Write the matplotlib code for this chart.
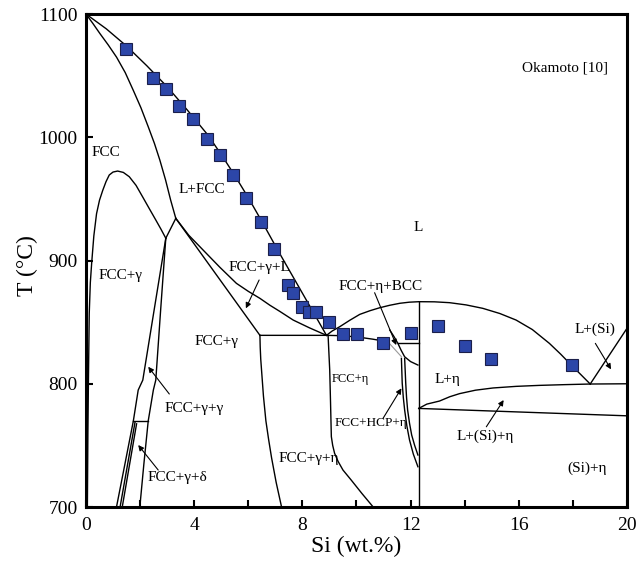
import matplotlib
matplotlib.use("Agg")
import matplotlib.pyplot as plt

plt.rcParams['font.family'] = ['Liberation Serif', 'DejaVu Serif']

# Measured liquidus temperatures
si_meas = [1.49, 2.46, 2.95, 3.45, 3.96, 4.46, 4.96, 5.43, 5.93, 6.46, 6.95, 7.46,
           7.64, 7.99, 8.25, 8.49, 8.97, 9.49, 10.02, 10.98, 12.0, 13.0, 14.01,
           14.98, 17.95]
t_meas = [1072, 1048, 1039, 1025, 1015, 999, 986, 969, 951, 931, 909, 880,
          874, 862, 858, 858, 850, 840, 840, 833, 841, 847, 831, 820, 815]

# Calculated phase boundaries (wt.% Si, degC)
liquidus_fcc_x = [0.0, 0.75, 1.5, 2.25, 3.0, 3.75, 4.5, 5.0, 5.5, 6.0, 6.52, 7.1, 7.7, 8.3, 8.89]
liquidus_fcc_t = [1100, 1088, 1074, 1058, 1041, 1022, 1002, 986, 969, 951, 931, 908, 885, 862, 839.3]

solidus_fcc_x = [0.0, 0.25, 0.52, 0.82, 1.13, 1.45, 1.75, 2.03, 2.30, 2.53, 2.73, 2.94, 3.13, 3.32]
solidus_fcc_t = [1100, 1092.5, 1084, 1075, 1065, 1052.5, 1038, 1024, 1008.6, 995, 981.5, 965.5, 949, 934.2]

fcc_solvus_x = [0.05, 0.07, 0.09, 0.12, 0.16, 0.21, 0.29, 0.39, 0.50, 0.62, 0.74, 0.86,
                1.0, 1.17, 1.38, 1.60, 1.85, 2.09, 2.33, 2.58, 2.77, 2.95]
fcc_solvus_t = [700, 760, 803, 857, 882, 898, 920, 938, 949, 957, 964, 969.4,
                971.8, 972.6, 971.5, 968, 961, 951.8, 942.5, 932.9, 925.5, 918.1]

gamma_link_x = [2.95, 3.32]
gamma_link_t = [918.1, 934.2]

gamma_left_x = [2.95, 2.52, 2.10, 1.93, 1.75, 1.44, 1.13]
gamma_left_t = [918.1, 860, 803, 794.9, 769.8, 735, 700.3]

gamma_right_x = [2.95, 2.76, 2.58, 2.49, 2.30, 2.14, 1.99]
gamma_right_t = [918.1, 860, 803, 794.9, 769.8, 735, 700.0]

delta_line_x = [1.75, 2.30]
delta_line_t = [769.8, 769.8]

delta_a_x = [1.81, 1.26]
delta_a_t = [768.5, 700.0]
delta_b_x = [1.87, 1.34]
delta_b_t = [767.5, 700.0]

gl_upper_x = [3.32, 3.80, 4.33, 4.95, 5.56, 6.0, 6.43, 6.8, 7.16, 7.66, 8.25, 8.89]
gl_upper_t = [934.2, 920.5, 908.5, 894.5, 881.5, 875, 869.3, 863.7, 858.8, 851.7, 845.5, 839.3]

gl_lower_x = [3.32, 6.43]
gl_lower_t = [934.2, 839.3]

peritectic_x = [6.43, 8.89, 9.5, 10.12, 10.6, 11.16]
peritectic_t = [839.3, 839.3, 839.0, 837.7, 836.2, 834.1]

bcc_x = [11.16, 11.66]
bcc_t = [834.1, 822.0]

fcc_gamma_eta_x = [6.43, 6.44, 6.46, 6.49, 6.56, 6.65, 6.75, 6.86, 7.03, 7.23]
fcc_gamma_eta_t = [839.3, 830, 820, 811, 790, 770, 755, 740, 720, 700]

fcc_eta_x = [8.89, 8.95, 8.98, 9.01, 9.04, 9.07, 9.12, 9.19, 9.32, 9.50, 9.80, 10.20, 10.61]
fcc_eta_t = [839.3, 839.3, 825, 811.2, 785, 757.1, 750, 743.6, 737, 730.0, 722, 711, 700.2]

eta_liquidus_x = [8.89, 9.10, 9.38, 9.75, 10.12, 10.50, 10.86, 11.23, 11.60, 11.95, 12.31,
                  12.88, 13.44, 14.05, 14.67, 15.30, 15.90, 16.50, 17.13, 17.55, 17.94, 18.30, 18.64]
eta_liquidus_t = [839.3, 842.8, 846.3, 851.5, 856.3, 859.3, 861.7, 863.7, 865.3, 866.2, 866.6,
                  866.5, 865.8, 864.0, 861.2, 857.0, 851.7, 844.0, 832.8, 824.0, 815.2, 807.3, 799.8]

bcc_curve_x = [11.23, 11.38, 11.53, 11.65, 11.78, 12.0, 12.27]
bcc_curve_t = [843.6, 838.5, 832.8, 827.2, 821.9, 818.0, 815.2]

bcc_line_x = [11.53, 12.30]
bcc_line_t = [832.8, 832.8]

hcp_a_x = [11.66, 11.69, 11.73, 11.78, 11.86, 11.96, 12.10, 12.27]
hcp_a_t = [820.6, 800.6, 789, 778.7, 766, 754.4, 743, 732.7]
hcp_b_x = [11.78, 11.82, 11.85, 11.89, 11.96, 12.04, 12.15, 12.27]
hcp_b_t = [820.6, 800.6, 789, 778.7, 768, 758.4, 750, 742.2]

eta_line_x = [12.30, 12.30]
eta_line_t = [866.0, 700.0]

si_eta_upper_x = [12.30, 12.6, 13.07, 13.45, 13.81, 14.4, 15.05, 15.9, 16.76, 17.7, 18.64, 20.0]
si_eta_upper_t = [780, 783.5, 786, 789.5, 792, 794.8, 796.6, 797.9, 798.7, 799.3, 799.8, 800.0]

si_eta_lower_x = [12.30, 20.0]
si_eta_lower_t = [780, 774]

si_liquidus_x = [18.64, 20.0]
si_liquidus_t = [799.8, 845.0]

boundaries = [
    (liquidus_fcc_x, liquidus_fcc_t), (solidus_fcc_x, solidus_fcc_t),
    (fcc_solvus_x, fcc_solvus_t), (gamma_link_x, gamma_link_t),
    (gamma_left_x, gamma_left_t), (gamma_right_x, gamma_right_t),
    (delta_line_x, delta_line_t), (delta_a_x, delta_a_t), (delta_b_x, delta_b_t),
    (gl_upper_x, gl_upper_t), (gl_lower_x, gl_lower_t),
    (peritectic_x, peritectic_t), (fcc_gamma_eta_x, fcc_gamma_eta_t),
    (fcc_eta_x, fcc_eta_t), (eta_liquidus_x, eta_liquidus_t),
    (bcc_curve_x, bcc_curve_t), (bcc_line_x, bcc_line_t),
    (hcp_a_x, hcp_a_t), (hcp_b_x, hcp_b_t), (eta_line_x, eta_line_t),
    (si_eta_upper_x, si_eta_upper_t), (si_eta_lower_x, si_eta_lower_t),
    (si_liquidus_x, si_liquidus_t),
]

# Region labels: text, x, T, size
region_labels = [
    ("FCC", 0.74, 987.5, 11),
    ("L+FCC", 4.30, 958, 11),
    ("FCC+\u03b3", 1.29, 888, 11),
    ("FCC+\u03b3", 4.83, 834, 11),
    ("FCC+\u03b3+L", 6.43, 894, 11),
    ("L", 12.27, 927, 11),
    ("FCC+\u03b7+BCC", 10.89, 879, 11),
    ("FCC+\u03b7", 9.78, 804, 9),
    ("FCC+HCP+\u03b7", 10.53, 768, 9.5),
    ("FCC+\u03b3+\u03b7", 8.22, 739.5, 11),
    ("L+\u03b7", 13.35, 803.6, 11),
    ("L+(Si)", 18.81, 844, 11),
    ("L+(Si)+\u03b7", 14.76, 757.6, 11),
    ("(Si)+\u03b7", 18.51, 731.4, 11),
    ("FCC+\u03b3+\u03b3", 3.99, 780, 11),
    ("FCC+\u03b3+\u03b4", 3.38, 724, 11),
    ("Okamoto [10]", 17.69, 1056, 11),
]

# Pointer arrows: (tail x, tail T, head x, head T)
pointers = [
    (6.40, 884.2, 5.91, 861.2),
    (10.67, 873.9, 11.47, 831.4),
    (10.98, 771.9, 11.66, 796.3),
    (18.83, 832.8, 19.41, 811.7),
    (14.80, 765.1, 15.44, 786.8),
    (3.08, 791.7, 2.30, 813.8),
    (2.67, 730.0, 1.93, 750.3),
]

fig = plt.figure(figsize=(6.37, 5.66), dpi=100)
ax = fig.add_axes([0.135, 0.1042, 0.8493, 0.871])

for bx, bt in boundaries:
    ax.plot(bx, bt, color='black', lw=1.0, solid_joinstyle='round')
ax.plot(bcc_x, bcc_t, color='#9a9a9a', lw=0.8)

ax.plot(si_meas, t_meas, linestyle='none', marker='s', markersize=8,
        markerfacecolor='#2c46a8', markeredgecolor='#1b1f4a', markeredgewidth=0.8,
        zorder=5)

for txt, x, t, size in region_labels:
    ax.text(x, t, txt, ha='center', va='center', fontsize=size)

for x0, t0, x1, t1 in pointers:
    ax.annotate('', xy=(x1, t1), xytext=(x0, t0),
                arrowprops=dict(arrowstyle='-|>', lw=0.8, color='black',
                                mutation_scale=8, shrinkA=0, shrinkB=0))

ax.set_xlim(0, 20)
ax.set_ylim(700, 1100)
ax.set_xticks([0, 4, 8, 12, 16, 20])
ax.set_xticks([2, 6, 10, 14, 18], minor=True)
ax.set_yticks([700, 800, 900, 1000, 1100])
ax.tick_params(direction='in', which='major', length=5, width=1.5, labelsize=14)
ax.tick_params(axis='x', which='major', pad=7.5)
ax.tick_params(axis='y', which='major', pad=6)
ax.tick_params(direction='in', which='minor', length=5, width=1.5)
for s in ax.spines.values():
    s.set_linewidth(2.2)
ax.set_xlabel('Si (wt.%)', fontsize=17, labelpad=1)
ax.set_ylabel('T (\u00b0C)', fontsize=17)
ax.yaxis.set_label_coords(-0.088, 0.49)

fig.savefig('out.png', dpi=100)
